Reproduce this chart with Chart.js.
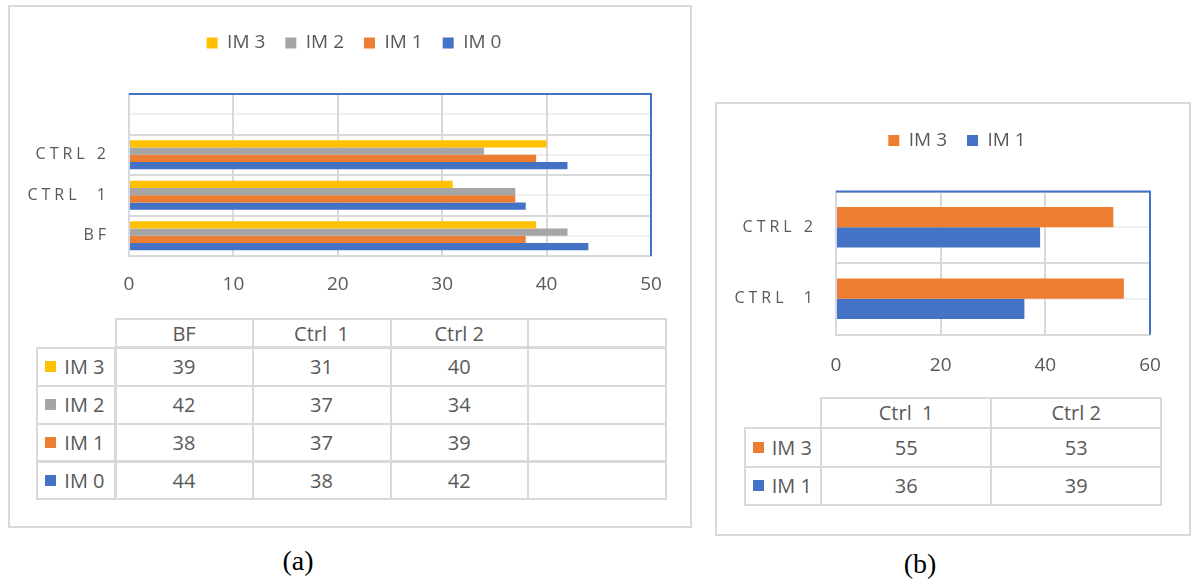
<!DOCTYPE html>
<html>
<head>
<meta charset="utf-8">
<script src="https://cdn.jsdelivr.net/npm/chart.js@4.4.0/dist/chart.umd.min.js"></script>
<style>
  html, body { margin: 0; padding: 0; background: #fff; }
  body { width: 1196px; height: 582px; position: relative; overflow: hidden;
         font-family: 'Open Sans', sans-serif; color: #595959; }
  .panel { position: absolute; box-sizing: border-box; border: 2px solid #d9d9d9; }
  .cv { position: absolute; }
  .cell { position: absolute; box-sizing: border-box; border: 2px solid #d9d9d9;
          display: flex; align-items: center; justify-content: center;
          font-size: 20px; color: #595959; white-space: pre; }
  .cell.key { justify-content: flex-start; padding-left: 7px; }
  .sw { display: inline-block; width: 11px; height: 11px; margin-right: 8px; }
  .cap { position: absolute; font-family: 'Liberation Serif', 'Times New Roman', serif;
         font-size: 28px; color: #000; transform: translate(-50%, -50%); }
</style>
</head>
<body>
<div class="panel" style="left:8px;top:5px;width:684px;height:523px"></div>
<div class="panel" style="left:715px;top:102px;width:476px;height:434px"></div>
<canvas id="chartA" class="cv" width="683" height="300" style="left:8px;top:5px"></canvas>
<canvas id="chartB" class="cv" width="476" height="280" style="left:715px;top:102px"></canvas>
<div id="tableA"></div>
<div id="tableB"></div>
<div class="cap" style="left:298px;top:561px">(a)</div>
<div class="cap" style="left:920px;top:564px">(b)</div>

<script>
// ---- data: panel (a) ----
const categoriesA = ['BF', 'Ctrl  1', 'Ctrl 2', ''];
const seriesA = ['IM 3', 'IM 2', 'IM 1', 'IM 0'];
const im3A = [39, 31, 40, null];
const im2A = [42, 37, 34, null];
const im1A = [38, 37, 39, null];
const im0A = [44, 38, 42, null];
const xTicksA = [0, 10, 20, 30, 40, 50];

// ---- data: panel (b) ----
const categoriesB = ['Ctrl  1', 'Ctrl 2'];
const seriesB = ['IM 3', 'IM 1'];
const im3B = [55, 53];
const im1B = [36, 39];
const xTicksB = [0, 20, 40, 60];

const FONT = "'Open Sans', sans-serif";
const TEXT = '#595959';
const YELLOW = '#FFC000', GREY = '#A5A5A5', ORANGE = '#ED7D31', BLUE = '#4472C4';

Chart.defaults.font.family = FONT;
Chart.defaults.color = TEXT;

// extra room between the legend row and the plot area
const legendGap = {
  id: 'legendGap',
  beforeInit(chart, args, opts) {
    const lg = chart.legend;
    const fit = lg.fit;
    lg.fit = function () { fit.call(lg); lg.height += opts.extra || 0; };
  }
};

// blue frame along the top and right of the plot area
const plotFrame = {
  id: 'plotFrame',
  beforeDatasetsDraw(chart) {
    const { ctx, chartArea: a } = chart;
    ctx.save();
    ctx.strokeStyle = BLUE;
    ctx.lineWidth = 2;
    ctx.beginPath();
    ctx.moveTo(a.left, a.top);
    ctx.lineTo(a.right, a.top);
    ctx.lineTo(a.right, a.bottom);
    ctx.stroke();
    ctx.restore();
  }
};

// tracked-out category labels, allowed to run past the axis box
const spacedLabels = {
  id: 'spacedLabels',
  beforeDraw(chart, args, opts) {
    const s = chart.scales.y;
    if (s && !s.__spaced) {
      const orig = s.drawLabels;
      s._computeLabelArea = () => undefined;
      s.drawLabels = function (area) {
        this.ctx.save();
        this.ctx.letterSpacing = (opts.spacing || 0) + 'px';
        orig.call(this, area);
        this.ctx.restore();
      };
      s.__spaced = true;
    }
  }
};

function buildChart(id, cats, names, values, colors, ticks, cfg) {
  const datasets = names.map((n, i) => ({
    label: n,
    data: values[i],
    backgroundColor: colors[i],
    borderWidth: 0,
    categoryPercentage: cfg.catPct,
    barPercentage: 1,
    yAxisID: 'y',
    xAxisID: 'x'
  }));
  return new Chart(document.getElementById(id), {
    type: 'bar',
    data: { labels: cats, datasets },
    options: {
      indexAxis: 'y',
      responsive: false,
      animation: false,
      events: [],
      layout: { padding: { top: cfg.padTop, left: 49, right: cfg.padRight, bottom: cfg.padBottom } },
      plugins: {
        legend: {
          position: 'top',
          labels: { boxWidth: 11, boxHeight: 11, padding: 20, color: TEXT, font: { family: FONT, size: 19 } }
        },
        tooltip: { enabled: false },
        legendGap: { extra: cfg.legendExtra },
        spacedLabels: { spacing: 4 }
      },
      scales: {
        y: {
          type: 'category',
          reverse: true,
          offset: true,
          grid: { offset: true, color: '#d9d9d9', lineWidth: 2, drawTicks: false },
          border: { color: '#d3d9e4', width: 1.5 },
          ticks: {
            color: TEXT,
            font: { family: FONT, size: 16 },
            padding: 19,
            callback(v) { return this.getLabelForValue(v).toUpperCase(); }
          },
          afterFit(s) { s.width = 72; }
        },
        yc: {
          type: 'category',
          reverse: true,
          offset: true,
          position: 'left',
          grid: { offset: false, color: '#f0f0f0', lineWidth: 2, drawTicks: false },
          border: { display: false },
          ticks: { display: false },
          afterFit(s) { s.width = 0; }
        },
        x: {
          type: 'linear',
          min: ticks[0],
          max: ticks[ticks.length - 1],
          ticks: {
            stepSize: ticks[1] - ticks[0],
            color: TEXT,
            font: { family: FONT, size: 19 },
            padding: cfg.xPad
          },
          grid: { color: '#d9d9d9', lineWidth: 2, drawTicks: false },
          border: { color: '#d9d9d9', width: 2 },
          afterFit(s) { s.height = 40; }
        }
      }
    },
    plugins: [legendGap, plotFrame, spacedLabels]
  });
}

// data table under each chart
function buildTable(hostId, cats, names, values, colors, xs, ys) {
  const host = document.getElementById(hostId);
  const cell = (x0, x1, y0, y1, cls) => {
    const d = document.createElement('div');
    d.className = 'cell' + (cls ? ' ' + cls : '');
    d.style.left = (x0 - 1) + 'px';
    d.style.top = (y0 - 1) + 'px';
    d.style.width = (x1 - x0 + 2) + 'px';
    d.style.height = (y1 - y0 + 2) + 'px';
    host.appendChild(d);
    return d;
  };
  cats.forEach((c, j) => { cell(xs[j + 1], xs[j + 2], ys[0], ys[1]).textContent = c; });
  names.forEach((n, i) => {
    const k = cell(xs[0], xs[1], ys[i + 1], ys[i + 2], 'key');
    const sw = document.createElement('span');
    sw.className = 'sw';
    sw.style.background = colors[i];
    k.appendChild(sw);
    k.appendChild(document.createTextNode(n));
    cats.forEach((c, j) => {
      const v = values[i][j];
      cell(xs[j + 1], xs[j + 2], ys[i + 1], ys[i + 2]).textContent = v == null ? '' : String(Math.round(v));
    });
  });
}

const valuesA = [im3A, im2A, im1A, im0A];
const colorsA = [YELLOW, GREY, ORANGE, BLUE];
const valuesB = [im3B, im1B];
const colorsB = [ORANGE, BLUE];

buildChart('chartA', categoriesA, seriesA, valuesA, colorsA, xTicksA,
  { catPct: 0.72, padTop: 8.5, padRight: 40, padBottom: 9, legendExtra: 31.5, xPad: 17.5 });
buildChart('chartB', categoriesB, seriesB, valuesB, colorsB, xTicksB,
  { catPct: 0.565, padTop: 9, padRight: 41, padBottom: 7.5, legendExtra: 31.5, xPad: 19.5 });

buildTable('tableA', categoriesA, seriesA, valuesA, colorsA,
  [37.3, 115.5, 252.5, 390.5, 528, 665.8], [319.3, 347.5, 386, 423.8, 461.5, 499.3]);
buildTable('tableB', categoriesB, seriesB, valuesB, colorsB,
  [744.7, 820.9, 991.4, 1161], [398, 427.6, 466.8, 505]);
</script>
</body>
</html>
